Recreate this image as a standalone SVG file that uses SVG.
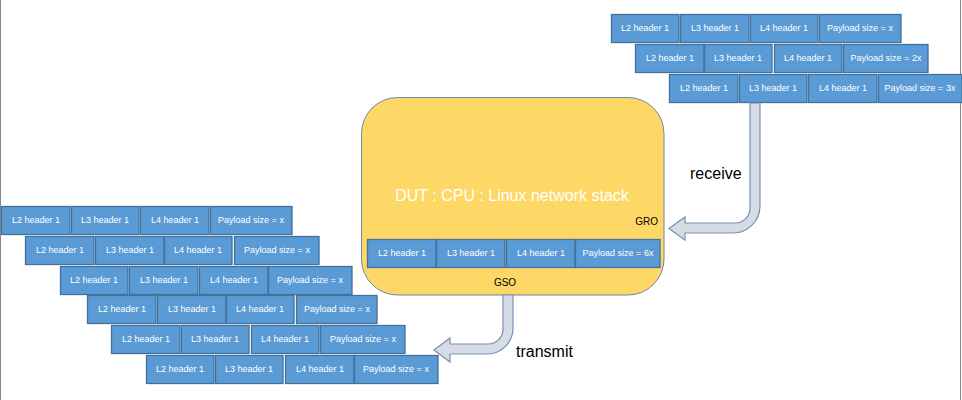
<svg xmlns="http://www.w3.org/2000/svg" width="962" height="400" viewBox="0 0 962 400">
<style>
.c{fill:#5B9BD5;stroke:#41719C;stroke-width:1.3}
.t{font-family:"Liberation Sans",Arial,sans-serif;font-size:9px;fill:#FFFFFF;text-anchor:middle}
.lbl{font-family:"Liberation Sans",Arial,sans-serif;fill:#000000}
.arrow{fill:#D6DCE5;stroke:#7A8FAE;stroke-width:1.2}
</style>
<rect x="0" y="0" width="962" height="400" fill="#FFFFFF"/>
<line x1="0.5" y1="0" x2="0.5" y2="400" stroke="#888888" stroke-width="1"/>
<line x1="960.5" y1="0" x2="960.5" y2="400" stroke="#888888" stroke-width="1"/>

<g id="dut">
<rect x="361.5" y="97.5" width="302.5" height="197.5" rx="36" ry="36" fill="#FDD866" stroke="#6F86A8" stroke-width="1"/>
<text x="512" y="201" class="lbl" style="font-size:16px;fill:#FFFFFF;text-anchor:middle">DUT : CPU : Linux network stack</text>
<text x="658" y="225" class="lbl" style="font-size:10px;text-anchor:end">GRO</text>
<text x="505" y="286" class="lbl" style="font-size:10px;text-anchor:middle">GSO</text>
</g>

<g id="packet-gro">
<rect class="c" x="367.5" y="239.5" width="68.5" height="28"/><text class="t" x="402" y="256">L2 header 1</text>
<rect class="c" x="436.5" y="239.5" width="68.5" height="28"/><text class="t" x="471" y="256">L3 header 1</text>
<rect class="c" x="506.5" y="239.5" width="68.5" height="28"/><text class="t" x="541" y="256">L4 header 1</text>
<rect class="c" x="575.5" y="239.5" width="84.5" height="28"/><text class="t" x="618" y="256">Payload size = 6x</text>
</g>

<g id="rx1">
<rect class="c" x="611.5" y="14.5" width="67.5" height="28"/><text class="t" x="645" y="31">L2 header 1</text>
<rect class="c" x="680.5" y="14.5" width="68.5" height="28"/><text class="t" x="715" y="31">L3 header 1</text>
<rect class="c" x="750.5" y="14.5" width="67.5" height="28"/><text class="t" x="784" y="31">L4 header 1</text>
<rect class="c" x="819.5" y="14.5" width="81.5" height="28"/><text class="t" x="860" y="31">Payload size = x</text>
</g>
<g id="rx2">
<rect class="c" x="635.5" y="44.5" width="68.5" height="28"/><text class="t" x="670" y="61">L2 header 1</text>
<rect class="c" x="704.5" y="44.5" width="67.5" height="28"/><text class="t" x="738" y="61">L3 header 1</text>
<rect class="c" x="774.5" y="44.5" width="67.5" height="28"/><text class="t" x="808" y="61">L4 header 1</text>
<rect class="c" x="843.5" y="44.5" width="84.5" height="28"/><text class="t" x="886" y="61">Payload size = 2x</text>
</g>
<g id="rx3">
<rect class="c" x="669.5" y="74.5" width="68.5" height="28"/><text class="t" x="704" y="91">L2 header 1</text>
<rect class="c" x="739.5" y="74.5" width="67.5" height="28"/><text class="t" x="773" y="91">L3 header 1</text>
<rect class="c" x="808.5" y="74.5" width="68.5" height="28"/><text class="t" x="843" y="91">L4 header 1</text>
<rect class="c" x="878.5" y="74.5" width="83.5" height="28"/><text class="t" x="920" y="91">Payload size = 3x</text>
</g>

<g id="tx1">
<rect class="c" x="1.5" y="206.5" width="68.5" height="28"/><text class="t" x="36" y="223">L2 header 1</text>
<rect class="c" x="71.5" y="206.5" width="67.5" height="28"/><text class="t" x="105" y="223">L3 header 1</text>
<rect class="c" x="140.5" y="206.5" width="68.5" height="28"/><text class="t" x="175" y="223">L4 header 1</text>
<rect class="c" x="210.5" y="206.5" width="81.5" height="28"/><text class="t" x="251" y="223">Payload size = x</text>
</g>
<g id="tx2">
<rect class="c" x="25.5" y="236.5" width="68.5" height="28"/><text class="t" x="60" y="253">L2 header 1</text>
<rect class="c" x="95.5" y="236.5" width="68.5" height="28"/><text class="t" x="130" y="253">L3 header 1</text>
<rect class="c" x="164.5" y="236.5" width="67.5" height="28"/><text class="t" x="198" y="253">L4 header 1</text>
<rect class="c" x="234.5" y="236.5" width="84.5" height="28"/><text class="t" x="277" y="253">Payload size = x</text>
</g>
<g id="tx3">
<rect class="c" x="60.5" y="266.5" width="67.5" height="28"/><text class="t" x="94" y="283">L2 header 1</text>
<rect class="c" x="129.5" y="266.5" width="68.5" height="28"/><text class="t" x="164" y="283">L3 header 1</text>
<rect class="c" x="199.5" y="266.5" width="68.5" height="28"/><text class="t" x="234" y="283">L4 header 1</text>
<rect class="c" x="268.5" y="266.5" width="83.5" height="28"/><text class="t" x="310" y="283">Payload size = x</text>
</g>
<g id="tx4">
<rect class="c" x="87.5" y="295.5" width="68.5" height="28"/><text class="t" x="122" y="312">L2 header 1</text>
<rect class="c" x="157.5" y="295.5" width="68.5" height="28"/><text class="t" x="192" y="312">L3 header 1</text>
<rect class="c" x="226.5" y="295.5" width="67.5" height="28"/><text class="t" x="260" y="312">L4 header 1</text>
<rect class="c" x="296.5" y="295.5" width="80.5" height="28"/><text class="t" x="337" y="312">Payload size = x</text>
</g>
<g id="tx5">
<rect class="c" x="111.5" y="325.5" width="68.5" height="28"/><text class="t" x="146" y="342">L2 header 1</text>
<rect class="c" x="181.5" y="325.5" width="67.5" height="28"/><text class="t" x="215" y="342">L3 header 1</text>
<rect class="c" x="251.5" y="325.5" width="67.5" height="28"/><text class="t" x="285" y="342">L4 header 1</text>
<rect class="c" x="320.5" y="325.5" width="84.5" height="28"/><text class="t" x="363" y="342">Payload size = x</text>
</g>
<g id="tx6">
<rect class="c" x="146.5" y="355.5" width="67.5" height="28"/><text class="t" x="180" y="372">L2 header 1</text>
<rect class="c" x="215.5" y="355.5" width="67.5" height="28"/><text class="t" x="249" y="372">L3 header 1</text>
<rect class="c" x="285.5" y="355.5" width="68.5" height="28"/><text class="t" x="320" y="372">L4 header 1</text>
<rect class="c" x="354.5" y="355.5" width="83.5" height="28"/><text class="t" x="396" y="372">Payload size = x</text>
</g>

<g id="connectors">
<path class="arrow" d="M 750 103 L 760 103 L 760 206 A 27 27 0 0 1 733 233 L 685 233 L 685 240 L 669 228.5 L 685 217 L 685 223 L 735 223 A 15 15 0 0 0 750 208 Z"/>
<text x="690" y="179" class="lbl" style="font-size:16px">receive</text>
<path class="arrow" d="M 503 295 L 513 295 L 513 328 A 26 26 0 0 1 487 354 L 450 354 L 450 362 L 434 350 L 450 338 L 450 344 L 488 344 A 15 15 0 0 0 503 329 Z"/>
<text x="516" y="357" class="lbl" style="font-size:16px">transmit</text>
</g>
</svg>
